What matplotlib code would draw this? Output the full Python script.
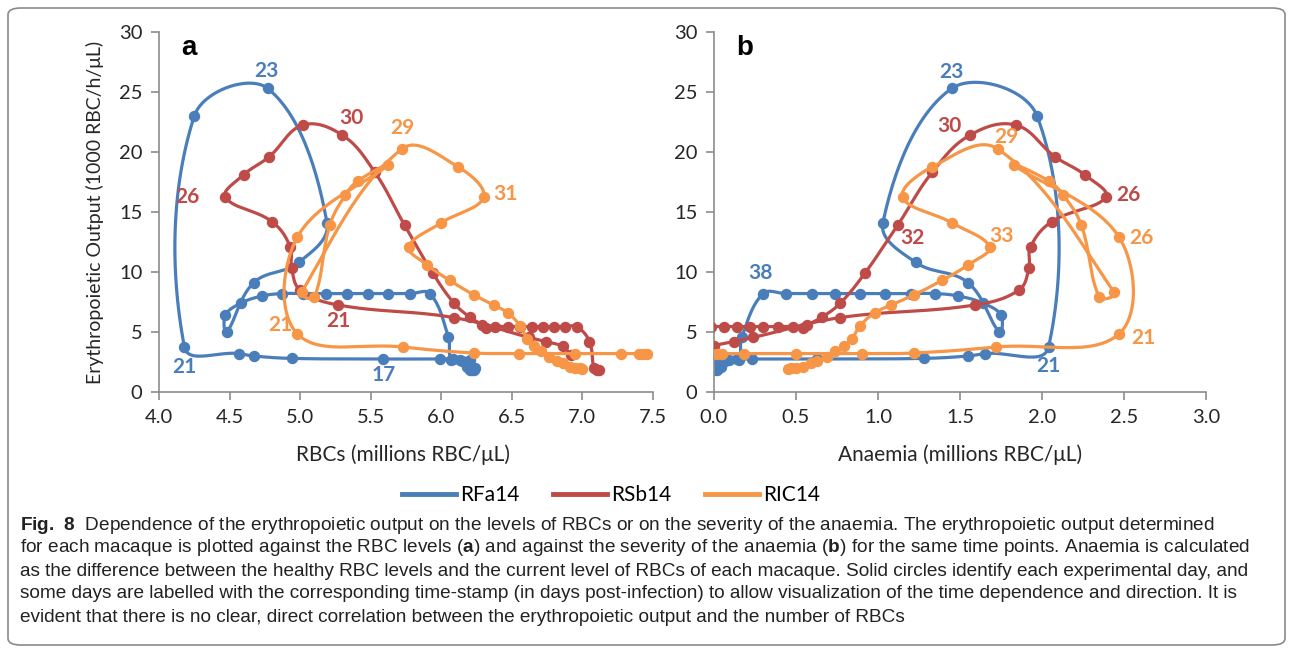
import numpy as np
import matplotlib
matplotlib.use("Agg")
import matplotlib.pyplot as plt
from matplotlib.patches import FancyBboxPatch
from matplotlib.lines import Line2D

# RBC levels (millions RBC/uL) and erythropoietic output (1000 RBC/h/uL), in time order
rfa_rbc = [6.22, 6.24, 6.18, 6.20, 6.13, 6.08, 5.99, 5.59, 4.94, 4.67, 4.57, 4.18,
           4.25, 4.77, 5.19, 4.99, 4.67, 4.48, 4.47, 4.58, 4.73, 4.87, 5.02, 5.18,
           5.33, 5.48, 5.62, 5.78, 5.92, 6.05, 6.07, 6.15, 6.20, 6.23]
rfa_out = [1.8, 2.0, 2.1, 2.7, 2.7, 2.75, 2.75, 2.75, 2.8, 3.0, 3.2, 3.75,
           23.0, 25.3, 14.1, 10.8, 9.1, 5.0, 6.4, 7.4, 8.0, 8.2, 8.2, 8.2,
           8.2, 8.2, 8.2, 8.2, 8.2, 4.6, 2.7, 2.6, 1.8, 1.8]

rsb_rbc = [6.92, 6.86, 6.74, 6.62, 6.09, 5.27, 5.00, 4.94, 4.93, 4.80, 4.47, 4.60,
           4.78, 5.02, 5.30, 5.53, 5.74, 5.94, 6.09, 6.20, 6.29, 6.32, 6.38, 6.47,
           6.56, 6.64, 6.72, 6.80, 6.88, 6.96, 7.05, 7.08, 7.10, 7.12]
rsb_out = [3.1, 3.8, 4.2, 4.55, 6.2, 7.25, 8.5, 10.3, 12.1, 14.2, 16.25, 18.1,
           19.6, 22.25, 21.4, 18.3, 13.9, 9.9, 7.4, 6.25, 5.6, 5.3, 5.45, 5.45,
           5.45, 5.45, 5.45, 5.45, 5.45, 5.45, 4.2, 2.0, 1.8, 1.8]

ric_rbc = [7.46, 7.43, 7.40, 7.27, 6.95, 6.55, 6.23, 5.73, 4.98, 4.98, 5.62, 5.41,
           5.32, 5.21, 5.10, 5.01, 5.72, 6.12, 6.30, 6.00, 5.77, 5.90, 6.06, 6.23,
           6.37, 6.47, 6.56, 6.61, 6.66, 6.71, 6.76, 6.82, 6.86, 6.91, 6.95, 6.98, 7.00]
ric_out = [3.2, 3.2, 3.2, 3.2, 3.2, 3.2, 3.25, 3.75, 4.85, 12.9, 18.9, 17.6,
           16.4, 13.9, 7.9, 8.3, 20.25, 18.75, 16.25, 14.1, 12.1, 10.6, 9.3, 8.1,
           7.25, 6.6, 5.5, 4.4, 3.8, 3.4, 2.9, 2.6, 2.4, 2.1, 2.0, 2.0, 1.95]

# healthy RBC level of each macaque (anaemia = healthy - current)
healthy = {"RFa14": 6.22, "RSb14": 6.86, "RIC14": 7.45}

# labelled time stamps: (point index, day)
labels_a = {"RFa14": [(13, "23"), (11, "21"), (7, "17")],
            "RSb14": [(10, "26"), (14, "30"), (5, "21")],
            "RIC14": [(16, "29"), (18, "31"), (8, "21")]}
labels_b = {"RFa14": [(13, "23"), (11, "21"), (28, "38")],
            "RSb14": [(14, "30"), (16, "32"), (10, "26")],
            "RIC14": [(16, "29"), (20, "33"), (9, "26"), (8, "21")]}

# label offsets in pixels
off_a = {"RFa14": [(-1, 17), (0, -20), (0, -16)],
         "RSb14": [(-38, 0), (9, 17), (0, -16)],
         "RIC14": [(1, 21), (22, 3), (-17, 9)]}
off_b = {"RFa14": [(0, 16), (0, -19), (-3, 21)],
         "RSb14": [(-20, 9), (15, -13), (22, 2)],
         "RIC14": [(9, 12), (12, 11), (22, -1), (24, -4)]}

names = ["RFa14", "RSb14", "RIC14"]
colors = {"RFa14": "#4a7ebb", "RSb14": "#be4b48", "RIC14": "#f79646"}
series = {"RFa14": (rfa_rbc, rfa_out), "RSb14": (rsb_rbc, rsb_out), "RIC14": (ric_rbc, ric_out)}

W, H = 1293, 651
fig = plt.figure(figsize=(W / 100, H / 100), dpi=100)
chart_font = "Lato"


def excel_smooth(ax, x, y, n=30):
    # bezier smoothing in pixel space, handles scaled by chord length
    pts = ax.transData.transform(np.column_stack([x, y]))
    m = len(pts)
    tang = np.zeros_like(pts)
    for i in range(m):
        p0 = pts[max(i - 1, 0)]
        p2 = pts[min(i + 1, m - 1)]
        l0 = np.linalg.norm(pts[i] - p0)
        l1 = np.linalg.norm(p2 - pts[i])
        if l0 + l1 > 0:
            tang[i] = (p2 - p0) / (l0 + l1)
    out = [pts[0]]
    t = np.linspace(0, 1, n)[1:, None]
    for i in range(m - 1):
        p1, p2 = pts[i], pts[i + 1]
        L = np.linalg.norm(p2 - p1)
        c1 = p1 + tang[i] * L / 2.6
        c2 = p2 - tang[i + 1] * L / 2.6
        seg = (1 - t) ** 3 * p1 + 3 * (1 - t) ** 2 * t * c1 + 3 * (1 - t) * t ** 2 * c2 + t ** 3 * p2
        out.extend(seg)
    out = ax.transData.inverted().transform(np.array(out))
    return out[:, 0], out[:, 1]


def style_axes(ax, xlim, xticks):
    ax.set_xlim(*xlim)
    ax.set_ylim(0, 30)
    ax.set_xticks(xticks)
    ax.set_xticklabels(["%.1f" % v for v in xticks])
    ax.set_yticks(range(0, 31, 5))
    for s in ["top", "right"]:
        ax.spines[s].set_visible(False)
    for s in ["left", "bottom"]:
        ax.spines[s].set_color("#8c8c8c")
        ax.spines[s].set_linewidth(1.2)
    ax.tick_params(direction="out", length=6, width=1.2, color="#8c8c8c",
                   labelsize=14.5, labelcolor="#262626", pad=6)
    for lab in ax.get_xticklabels() + ax.get_yticklabels():
        lab.set_fontfamily(chart_font)


y0 = 1 - 392 / H
h = (392 - 32) / H
ax_a = fig.add_axes([159 / W, y0, (653 - 159) / W, h])
ax_b = fig.add_axes([714 / W, y0, (1206 - 714) / W, h])
style_axes(ax_a, (4.0, 7.5), np.arange(4.0, 7.51, 0.5))
style_axes(ax_b, (0.0, 3.0), np.arange(0.0, 3.01, 0.5))

for k, name in enumerate(names):
    rbc, out = series[name]
    rbc = np.array(rbc)
    out = np.array(out)
    anaemia = healthy[name] - rbc
    c = colors[name]
    for ax, xs, labs, offs in [(ax_a, rbc, labels_a, off_a), (ax_b, anaemia, labels_b, off_b)]:
        sx, sy = excel_smooth(ax, xs, out)
        ax.plot(sx, sy, color=c, lw=2.3, zorder=2 + k, solid_capstyle="round")
        ax.plot(xs, out, "o", color=c, ms=7.2, zorder=2 + k)
        for (idx, txt), (dx, dy) in zip(labs[name], offs[name]):
            ax.annotate(txt, (xs[idx], out[idx]), xytext=(dx, dy), textcoords="offset pixels",
                        ha="center", va="center", color=c, fontsize=15, fontweight="bold",
                        family=chart_font, zorder=10)

ax_a.text(0.045, 0.955, "a", transform=ax_a.transAxes, fontsize=20, fontweight="bold",
          family="Liberation Sans", va="center", ha="left")
ax_b.text(0.045, 0.955, "b", transform=ax_b.transAxes, fontsize=20, fontweight="bold",
          family="Liberation Sans", va="center", ha="left")

fig.text(403 / W, 1 - 455 / H, "RBCs (millions RBC/\u03bcL)", ha="center", va="center",
         fontsize=15, family=chart_font, color="#262626")
fig.text(960 / W, 1 - 455 / H, "Anaemia (millions RBC/\u03bcL)", ha="center", va="center",
         fontsize=15, family=chart_font, color="#262626")
fig.text(95 / W, 1 - 212 / H, "Erythropoietic Output (1000 RBC/h/\u03bcL)", ha="center", va="center",
         rotation=90, fontsize=14, family=chart_font, color="#262626")

handles = [Line2D([], [], color=colors[n], lw=3.5) for n in names]
fig.legend(handles, names, loc="center", bbox_to_anchor=(611 / W, 1 - 495 / H), ncol=3,
           frameon=False, handlelength=2.6, handletextpad=0.2, columnspacing=1.6,
           prop={"family": chart_font, "size": 15})

# caption
plt.rcParams["mathtext.fontset"] = "custom"
plt.rcParams["mathtext.rm"] = "Liberation Sans"
plt.rcParams["mathtext.bf"] = "Liberation Sans:bold"
caption = [
    r"$\mathbf{Fig.\ 8}$  Dependence of the erythropoietic output on the levels of RBCs or on the severity of the anaemia. The erythropoietic output determined",
    r"for each macaque is plotted against the RBC levels ($\mathbf{a}$) and against the severity of the anaemia ($\mathbf{b}$) for the same time points. Anaemia is calculated",
    "as the difference between the healthy RBC levels and the current level of RBCs of each macaque. Solid circles identify each experimental day, and",
    "some days are labelled with the corresponding time-stamp (in days post-infection) to allow visualization of the time dependence and direction. It is",
    "evident that there is no clear, direct correlation between the erythropoietic output and the number of RBCs",
]
cap_texts = []
for i, line in enumerate(caption):
    cap_texts.append(fig.text(20 / W, 1 - (525 + i * 23) / H, line, ha="left", va="center",
                              fontsize=12, family="Liberation Sans", color="#222222"))
# fit the widest caption line to the width available inside the frame
renderer = fig.canvas.get_renderer()
width = max(t.get_window_extent(renderer).width for t in cap_texts)
size = 12 * (1260 - 20) / width
for t in cap_texts:
    t.set_fontsize(size)

frame = FancyBboxPatch((8 / W, 6 / H), (1285 - 8) / W, (643 - 6) / H,
                       boxstyle="round,pad=0,rounding_size=0.01", transform=fig.transFigure,
                       fill=False, edgecolor="#8a8a8a", lw=1.2)
fig.patches.append(frame)

fig.savefig("out.png", dpi=100)
